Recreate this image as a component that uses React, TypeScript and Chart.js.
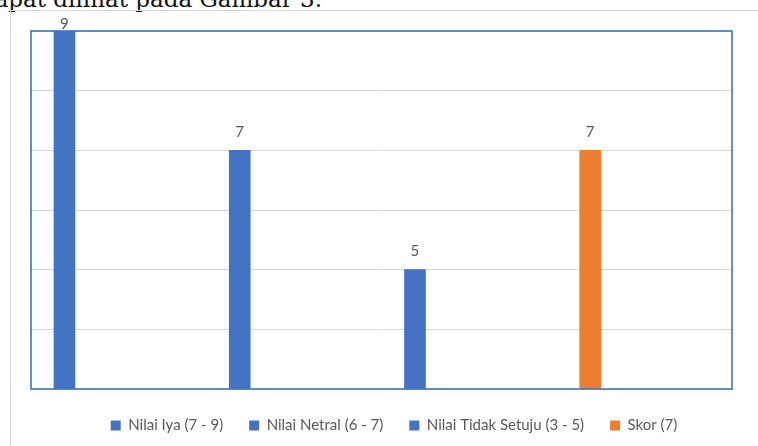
import React, { useEffect, useRef } from 'react';
import { Chart, registerables } from 'chart.js';

Chart.register(...registerables);

// ---- data ----
const seriesLabels = ['Nilai Iya (7 - 9)', 'Nilai Netral (6 - 7)', 'Nilai Tidak Setuju (3 - 5)', 'Skor (7)'];
const seriesValues = [9, 7, 5, 7];
const seriesColors = ['#4472C4', '#4472C4', '#4472C4', '#ED7D31'];
const yMin = 3;
const yMax = 9;
const yStep = 1;
const captionText = 'dapat dilihat pada Gambar 3.';

export default function App() {
  const ref = useRef<HTMLCanvasElement>(null);

  useEffect(() => {
    const plotFrame = {
      id: 'plotFrame',
      afterDatasetsDraw(chart: any) {
        const { ctx, chartArea: a } = chart;
        ctx.save();
        ctx.strokeStyle = '#4472C4';
        ctx.lineWidth = 1.6;
        ctx.strokeRect(a.left, a.top, a.right - a.left, a.bottom - a.top);
        ctx.restore();
      },
    };
    const valueLabels = {
      id: 'valueLabels',
      afterDatasetsDraw(chart: any) {
        const { ctx } = chart;
        ctx.save();
        ctx.font = '15px Lato';
        ctx.fillStyle = '#595959';
        ctx.textAlign = 'center';
        ctx.textBaseline = 'alphabetic';
        chart.data.datasets.forEach((ds: any, i: number) => {
          const meta = chart.getDatasetMeta(i);
          meta.data.forEach((el: any, j: number) => {
            const v = ds.data[j].y;
            const yy = Math.max(el.y - 13.5, chart.chartArea.top - 2);
            ctx.fillText(String(v), el.x, yy);
          });
        });
        ctx.restore();
      },
    };

    const chart = new Chart(ref.current as HTMLCanvasElement, {
      type: 'bar',
      data: {
        datasets: seriesLabels.map((label, i) => ({
          label,
          data: [{ x: i, y: seriesValues[i] }],
          backgroundColor: seriesColors[i],
          borderWidth: 0,
          barThickness: 21,
          grouped: false,
        })),
      } as any,
      options: {
        animation: false,
        responsive: false,
        maintainAspectRatio: false,
        layout: { padding: { left: 31, top: 31, right: 0, bottom: 3 } },
        scales: {
          x: {
            type: 'linear',
            offset: false,
            min: -0.191,
            max: 3.809,
            ticks: { display: false },
            grid: { display: false },
            border: { display: false },
            afterFit: (s: any) => {
              s.height = 3;
            },
          },
          y: {
            position: 'right',
            min: yMin,
            max: yMax,
            ticks: { stepSize: yStep, display: false },
            grid: { color: '#d9d9d9', lineWidth: 1, drawTicks: false },
            border: { display: false },
            afterFit: (s: any) => {
              s.width = 25;
            },
          },
        },
        plugins: {
          legend: {
            position: 'bottom',
            labels: {
              boxWidth: 10,
              boxHeight: 10,
              padding: 26,
              color: '#595959',
              font: { family: 'Lato', size: 15 },
            },
          },
          tooltip: { enabled: false },
        },
      } as any,
      plugins: [plotFrame, valueLabels],
    });
    return () => chart.destroy();
  }, []);

  return (
    <div
      style={{
        position: 'fixed',
        left: 0,
        top: 0,
        width: 758,
        height: 446,
        overflow: 'hidden',
        background: '#ffffff',
      }}
    >
      <div
        style={{
          position: 'absolute',
          right: 436,
          top: -13,
          whiteSpace: 'nowrap',
          fontFamily: '"DejaVu Serif", serif',
          fontSize: 23,
          lineHeight: '24px',
          color: '#111',
        }}
      >
        {captionText}
      </div>
      <div
        style={{
          position: 'absolute',
          left: 10,
          top: 10,
          width: 900,
          height: 900,
          border: '1px solid #d9d9d9',
        }}
      />
      <canvas
        ref={ref}
        width={757}
        height={446}
        style={{ position: 'absolute', left: 0, top: 0, width: 757, height: 446 }}
      />
    </div>
  );
}
